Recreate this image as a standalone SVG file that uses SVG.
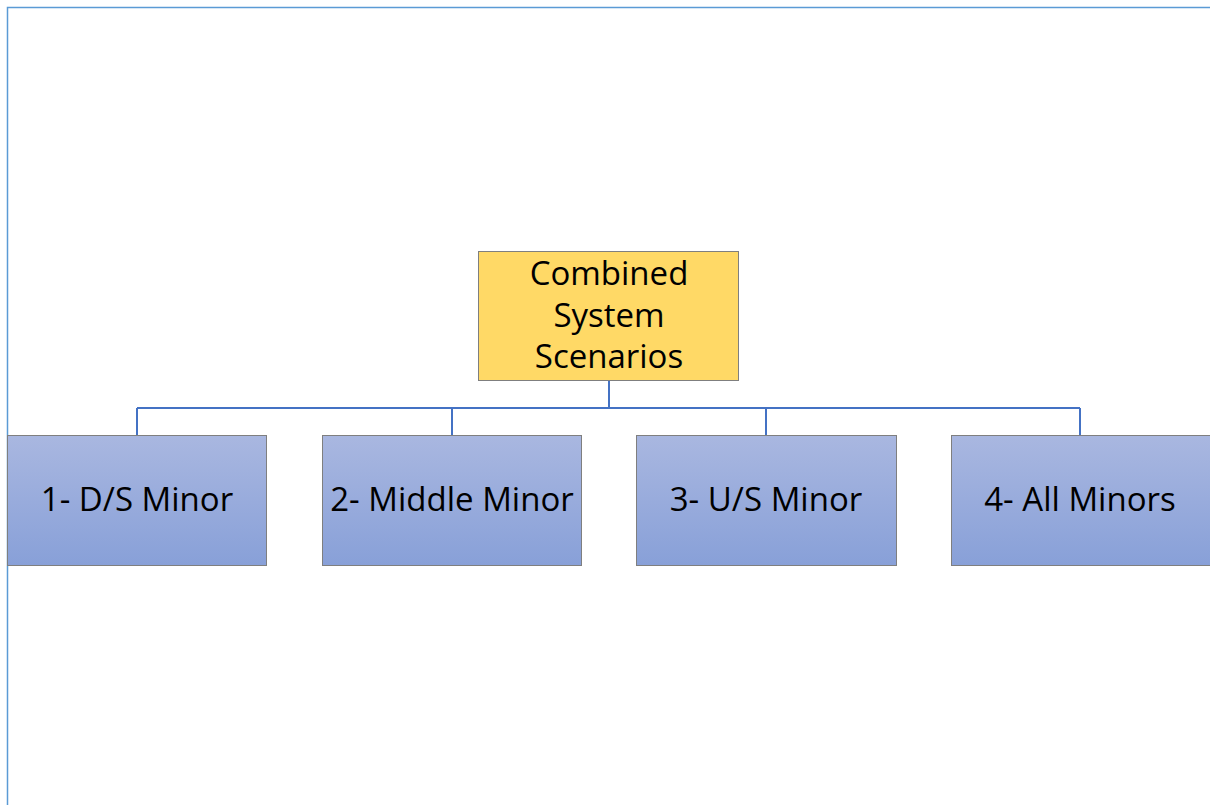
<svg xmlns="http://www.w3.org/2000/svg" width="1210" height="805" viewBox="0 0 1210 805">
<style>
.t{font-family:"Open Sans","Liberation Sans",sans-serif;font-size:33px;fill:#000;text-anchor:middle}
.leaf{fill:url(#g);stroke:#7f7f7f;stroke-width:1}
.conn{fill:none;stroke:#4472c4;stroke-width:2}
</style>
<defs>
<linearGradient id="g" x1="0" y1="0" x2="0" y2="1">
<stop offset="0" stop-color="#a9b7e0"/>
<stop offset="1" stop-color="#88a0d8"/>
</linearGradient>
</defs>
<rect width="1210" height="805" fill="#fff"/>
<path d="M7.5 805V7.5H1210" fill="none" stroke="#5b9bd5" stroke-width="1.5"/>
<g id="connectors">
<path class="conn" d="M609 381V408M137 408H1080M137 408V435M452 408V435M766 408V435M1080 408V435"/>
</g>
<g id="root">
<rect x="478.5" y="251.5" width="260" height="129" fill="#ffd966" stroke="#7f7f7f"/>
<text class="t" x="609" y="285">Combined</text>
<text class="t" x="609" y="327">System</text>
<text class="t" x="609" y="368">Scenarios</text>
</g>
<g id="n1">
<rect class="leaf" x="7.5" y="435.5" width="259" height="130"/>
<text class="t" x="137" y="511">1- D/S Minor</text>
</g>
<g id="n2">
<rect class="leaf" x="322.5" y="435.5" width="259" height="130"/>
<text class="t" x="452" y="511">2- Middle Minor</text>
</g>
<g id="n3">
<rect class="leaf" x="636.5" y="435.5" width="260" height="130"/>
<text class="t" x="766" y="511">3- U/S Minor</text>
</g>
<g id="n4">
<rect class="leaf" x="951.5" y="435.5" width="260" height="130"/>
<text class="t" x="1080" y="511">4- All Minors</text>
</g>
</svg>
